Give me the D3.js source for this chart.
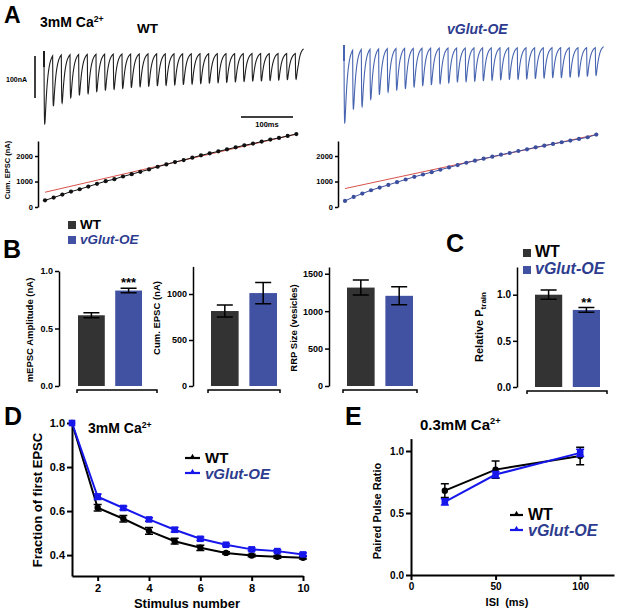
<!DOCTYPE html>
<html lang="en">
<head>
<meta charset="UTF-8">
<title>vGlut-OE short-term plasticity</title>
<script src="https://cdn.jsdelivr.net/npm/d3@7"></script>
<style>
    * { margin: 0; padding: 0; }
    body { background: #fff; }
    svg text { font-family: "Liberation Sans", Arial, sans-serif; font-weight: bold; }
</style>
</head>
<body>
<div id="container"></div>
<script>
"use strict";

// ---- A: 30-pulse train, peak EPSC per pulse (nA) ----
var pulseNumber = d3.range(1, 31);
var wtTrainAmp = [171, 121, 116, 104, 98, 95, 90, 87, 85, 83, 81, 79, 78, 77, 76, 75, 74, 73, 72, 71, 70, 69, 68, 67, 66, 66, 65, 64, 63, 62];
var vgTrainAmp = [183, 143, 138, 121, 110, 105, 100, 97, 93, 90, 88, 86, 84, 82, 81, 80, 79, 78, 77, 76, 76, 75, 74, 73, 72, 72, 71, 70, 69, 67];
var wtCumEpsc = [263, 368, 487, 605, 697, 803, 908, 1013, 1092, 1197, 1289, 1382, 1474, 1579, 1671, 1763, 1842, 1934, 2026, 2105, 2184, 2263, 2342, 2421, 2487, 2566, 2645, 2711, 2789, 2860];
var vgCumEpsc = [237, 395, 526, 658, 763, 868, 974, 1079, 1184, 1276, 1368, 1461, 1553, 1645, 1737, 1816, 1895, 1974, 2053, 2119, 2198, 2263, 2342, 2408, 2474, 2540, 2605, 2671, 2737, 2842];
var wtFit = [580, 2860];   // back-extrapolated linear fit at pulse 1 and pulse 30
var vgFit = [724, 2842];
var cumTrainTicks = [0, 1000, 2000];

// ---- B / C: bar graphs ----
var groups = ["WT", "vGlut-OE"];
var mepscAmp = [0.615, 0.83], mepscErr = [0.022, 0.02];
var cumEpsc = [815, 1010], cumEpscErr = [65, 115];
var rrpSize = [1315, 1205], rrpErr = [100, 120];
var pTrain = [1.0, 0.835], pTrainErr = [0.05, 0.025];
var mepscTicks = [0, 0.5, 1.0], cumTicks = [0, 500, 1000], rrpTicks = [0, 500, 1000, 1500], pTrainTicks = [0, 0.5, 1.0];

// ---- D: depression during train ----
var stimNumber = [1, 2, 3, 4, 5, 6, 7, 8, 9, 10];
var wtFraction = [1.0, 0.615, 0.565, 0.51, 0.463, 0.433, 0.41, 0.398, 0.392, 0.388];
var wtFractionErr = [0, 0.015, 0.015, 0.015, 0.013, 0.012, 0.005, 0.006, 0.006, 0.006];
var vgFraction = [1.0, 0.665, 0.614, 0.562, 0.515, 0.474, 0.447, 0.426, 0.418, 0.403];
var vgFractionErr = [0, 0.012, 0.008, 0.008, 0.01, 0.008, 0.006, 0.006, 0.006, 0.006];
var fractionTicks = [0.4, 0.6, 0.8, 1.0], stimTicks = [2, 4, 6, 8, 10];

// ---- E: paired pulse ratio ----
var isi = [20, 50, 100];
var wtPpr = [0.68, 0.85, 0.96], wtPprErr = [0.055, 0.07, 0.07];
var vgPpr = [0.59, 0.81, 0.985], vgPprErr = [0.025, 0.025, 0.03];
var pprTicks = [0, 0.5, 1.0], isiTicks = [0, 50, 100];

var barColors = ["#333333", "#4152a3"];
var traceColors = ["#1e1e1e", "#4664b0"];
var lineBlue = "#1717ec";
var navy = "#2d3c8e";
var fitRed = "#d8524c";

var svg = d3.select('#container').append('svg')
    .attr('width', 617).attr('height', 612);

function styleAxis(sel, size, w) {
    sel.attr('font-family', null).attr('font-size', size);
    sel.select('.domain').attr('stroke-width', w);
    sel.selectAll('.tick line').attr('stroke-width', w);
    sel.selectAll('.tick text').attr('fill', '#000');
}

function text(x, y, str, size, extra) {
    var t = svg.append('text').attr('x', x).attr('y', y).attr('font-size', size).text(str);
    if (extra) extra(t);
    return t;
}

function vLabel(x, y, str, size) {
    return svg.append('text')
        .attr('transform', 'translate(' + x + ',' + y + ') rotate(-90)')
        .attr('text-anchor', 'middle').attr('font-size', size).text(str);
}

function caTitle(x, y, conc, size) {
    var t = svg.append('text').attr('x', x).attr('y', y).attr('font-size', size)
        .attr('font-family', '"Open Sans", sans-serif');
    t.append('tspan').text(conc + ' Ca');
    t.append('tspan').attr('dy', -size * 0.38).attr('font-size', size * 0.62).text('2+');
}

function vglutText(x, y, size, color, anchor) {
    var t = svg.append('text').attr('x', x).attr('y', y).attr('font-size', size)
        .attr('fill', color).attr('font-style', 'italic');
    if (anchor) t.attr('text-anchor', anchor);
    t.text('vGlut-OE');
    return t;
}

// panel letters
text(4, 23, 'A', 23);
text(3, 258, 'B', 25);
text(446, 252, 'C', 25);
text(4, 425, 'D', 25);
text(345, 425, 'E', 25);

// =================== A ===================
caTitle(40, 27, '3mM', 14);
text(137, 33, 'WT', 13.5);
vglutText(447, 34, 14, navy);

var periodMs = 1000 / 60;
var tx = d3.scaleLinear().domain([0, 500]).range([0, 260]);

function kernelRaw(s) { return (1 - Math.exp(-s / 0.7)) * Math.exp(-s / 5); }
var kNorm = d3.max(d3.range(0, 10, 0.05), kernelRaw);

function trace(x0, base, amps, color, tail) {
    var yI = d3.scaleLinear().domain([0, 100]).range([base, base + 42]);
    var tEnd = (amps.length - 1) * periodMs;
    var pts = [];
    for (var t = 0; t <= tEnd + 16; t += 0.2) {
        var I = 0;
        amps.forEach(function (a, i) {
            var s = t - i * periodMs;
            if (s > 0) I += a * kernelRaw(s) / kNorm;
        });
        if (t > tEnd + 6) I -= tail * (1 - Math.exp(-(t - tEnd - 6) / 3));
        pts.push([t, I]);
    }
    svg.append('path')
        .attr('d', d3.line().x(function (d) { return x0 + tx(d[0]); }).y(function (d) { return yI(d[1]); })(pts))
        .attr('fill', 'none').attr('stroke', color).attr('stroke-width', 1.1);
    // stimulus artefact
    svg.append('line').attr('x1', x0).attr('x2', x0).attr('y1', base - 1).attr('y2', base + 15)
        .attr('stroke', color).attr('stroke-width', 2);
}
trace(44, 52, wtTrainAmp, traceColors[0], 12);
trace(344, 46, vgTrainAmp, traceColors[1], 3);

// scale bars
svg.append('line').attr('x1', 35).attr('x2', 35).attr('y1', 56).attr('y2', 98).attr('stroke', '#000').attr('stroke-width', 1.5);
text(6, 82, '100nA', 7);
svg.append('line').attr('x1', 241).attr('x2', 241 + tx(100)).attr('y1', 117).attr('y2', 117).attr('stroke', '#000').attr('stroke-width', 1.3);
text(241 + tx(50), 127, '100ms', 7.5, function (t) { t.attr('text-anchor', 'middle'); });

// cumulative EPSC plots
function cumPlot(axisX, x0, values, fit, color) {
    var y = d3.scaleLinear().domain([0, 2590]).range([207, 141]);
    var x = d3.scaleLinear().domain([1, 30]).range([x0 + 1, x0 + 1 + tx(29 * periodMs)]);
    svg.append('g').attr('transform', 'translate(' + axisX + ',0)')
        .call(d3.axisLeft(y).tickValues(cumTrainTicks).tickFormat(d3.format('d')).tickSize(3).tickSizeOuter(0).tickPadding(2))
        .call(styleAxis, 7.5, 1.5);
    svg.append('line')
        .attr('x1', x(1)).attr('y1', y(fit[0])).attr('x2', x(30)).attr('y2', y(fit[1]))
        .attr('stroke', fitRed).attr('stroke-width', 1);
    svg.append('path')
        .attr('d', d3.line().x(function (d, i) { return x(pulseNumber[i]); }).y(function (d) { return y(d); })(values))
        .attr('fill', 'none').attr('stroke', color).attr('stroke-width', 1);
    svg.append('g').selectAll('circle').data(values).join('circle')
        .attr('cx', function (d, i) { return x(pulseNumber[i]); })
        .attr('cy', function (d) { return y(d); })
        .attr('r', 2.1).attr('fill', color);
}
cumPlot(38, 44, wtCumEpsc, wtFit, '#111');
cumPlot(338, 344, vgCumEpsc, vgFit, '#3c4f9e');
vLabel(10, 170, 'Cum. EPSC (nA)', 7.5);

// =================== B / C ===================
function legendSquares(x, y1, y2, size, sq) {
    svg.append('rect').attr('x', x).attr('y', y1 - sq).attr('width', sq).attr('height', sq).attr('fill', barColors[0]);
    svg.append('rect').attr('x', x).attr('y', y2 - sq).attr('width', sq).attr('height', sq).attr('fill', barColors[1]);
    text(x + sq + 4, y1, 'WT', size);
    vglutText(x + sq + 4, y2, size, navy);
}
legendSquares(68, 229, 244, 13.5, 8);
legendSquares(523, 257, 274, 16, 8);

function barPanel(o) {
    var y = d3.scaleLinear().domain([0, o.max]).range([o.bottom, o.top]);
    var x = d3.scaleBand().domain(groups).range(o.bars).paddingInner(0.28);
    var g = svg.append('g');
    g.append('g').attr('transform', 'translate(' + o.axisX + ',0)')
        .call(d3.axisLeft(y).tickValues(o.ticks).tickFormat(o.fmt).tickSize(4).tickSizeOuter(0).tickPadding(2))
        .call(styleAxis, o.font, 1.5);
    g.selectAll('rect').data(o.values).join('rect')
        .attr('x', function (d, i) { return x(groups[i]); })
        .attr('y', function (d) { return y(d); })
        .attr('width', x.bandwidth())
        .attr('height', function (d) { return y(0) - y(d); })
        .attr('fill', function (d, i) { return barColors[i]; });
    o.values.forEach(function (v, i) {
        var cx = x(groups[i]) + x.bandwidth() / 2;
        var hi = y(v + o.errs[i]), lo = y(v - o.errs[i]);
        g.append('path')
            .attr('d', 'M' + (cx - 8) + ',' + hi + 'h16M' + cx + ',' + hi + 'V' + lo + 'M' + (cx - 8) + ',' + lo + 'h16')
            .attr('fill', 'none').attr('stroke', '#000').attr('stroke-width', 1.5);
        if (o.stars && o.stars[i]) {
            text(cx, hi - 1, o.stars[i], 13, function (t) { t.attr('text-anchor', 'middle'); });
        }
    });
    g.append('path')
        .attr('d', 'M' + o.line[0] + ',' + (o.bottom + 7) + 'V' + (o.bottom + 4) + 'H' + o.line[1] + 'V' + (o.bottom + 7))
        .attr('fill', 'none').attr('stroke', '#000').attr('stroke-width', 1.5);
}

barPanel({ axisX: 59, max: 1.0, top: 271, bottom: 386, bars: [78, 142], line: [77, 157],
    values: mepscAmp, errs: mepscErr, ticks: mepscTicks, fmt: d3.format('.1f'), font: 9, stars: ['', '***'] });
vLabel(33, 330, 'mEPSC Amplitude (nA)', 9.5);

barPanel({ axisX: 193, max: 1300, top: 266.4, bottom: 386, bars: [211, 277], line: [208, 280],
    values: cumEpsc, errs: cumEpscErr, ticks: cumTicks, fmt: d3.format('d'), font: 9 });
vLabel(160, 318, 'Cum. EPSC (nA)', 9.5);

barPanel({ axisX: 329, max: 1590, top: 267, bottom: 386, bars: [347, 413], line: [343, 417],
    values: rrpSize, errs: rrpErr, ticks: rrpTicks, fmt: d3.format('d'), font: 9 });
vLabel(297, 328, 'RRP Size (vesicles)', 9.5);

barPanel({ axisX: 517, max: 1.3, top: 267, bottom: 387, bars: [535, 600], line: [527, 607],
    values: pTrain, errs: pTrainErr, ticks: pTrainTicks, fmt: d3.format('.1f'), font: 10, stars: ['', '**'] });
var pl = vLabel(483, 327, '', 11);
pl.append('tspan').text('Relative  P');
pl.append('tspan').attr('dy', 3).attr('font-size', 8).text('train');

// =================== D / E ===================
function xyPanel(o) {
    var x = d3.scaleLinear().domain(o.xDomain).range(o.xRange);
    var y = d3.scaleLinear().domain(o.yDomain).range(o.yRange);
    svg.append('g').attr('transform', 'translate(' + o.xRange[0] + ',0)')
        .call(d3.axisLeft(y).tickValues(o.yTicks).tickFormat(d3.format('.1f')).tickSize(5).tickSizeOuter(0).tickPadding(2))
        .call(styleAxis, o.font, 2);
    svg.append('g').attr('transform', 'translate(0,' + o.yRange[0] + ')')
        .call(d3.axisBottom(x).tickValues(o.xTicks).tickSize(5).tickSizeOuter(0).tickPadding(3))
        .call(styleAxis, o.font, 2);
    o.series.forEach(function (s) {
        var g = svg.append('g');
        g.append('path')
            .attr('d', d3.line().x(function (d, i) { return x(o.xs[i]); }).y(function (d) { return y(d); })(s.values))
            .attr('fill', 'none').attr('stroke', s.color).attr('stroke-width', 2);
        s.values.forEach(function (v, i) {
            var cx = x(o.xs[i]), e = s.errs[i];
            if (e > 0) {
                g.append('path')
                    .attr('d', 'M' + (cx - 4) + ',' + y(v + e) + 'h8M' + cx + ',' + y(v + e) + 'V' + y(v - e) + 'M' + (cx - 4) + ',' + y(v - e) + 'h8')
                    .attr('fill', 'none').attr('stroke', s.color).attr('stroke-width', 1.5);
            }
            if (s.shape === 'circle') {
                g.append('circle').attr('cx', cx).attr('cy', y(v)).attr('r', 3.2).attr('fill', s.color);
            } else {
                g.append('rect').attr('x', cx - 3.3).attr('y', y(v) - 3.3).attr('width', 6.6).attr('height', 6.6).attr('fill', s.color);
            }
        });
    });
}

function lineLegend(x, y1, y2, size, len) {
    [[y1, '#000'], [y2, lineBlue]].forEach(function (r) {
        svg.append('line').attr('x1', x).attr('x2', x + len).attr('y1', r[0]).attr('y2', r[0])
            .attr('stroke', r[1]).attr('stroke-width', 2.2);
        svg.append('path').attr('d', d3.symbol(d3.symbolTriangle, 14)()).attr('transform', 'translate(' + (x + len / 2) + ',' + (r[0] - 1) + ')')
            .attr('fill', r[1]);
    });
    text(x + len + 5, y1 + 5, 'WT', size);
    vglutText(x + len + 5, y2 + 6, size, navy);
}

caTitle(88, 433, '3mM', 14);
xyPanel({ xDomain: [1, 10], xRange: [72, 303], yDomain: [0.305, 1.0], yRange: [576, 423],
    xs: stimNumber, xTicks: stimTicks, yTicks: fractionTicks, font: 11,
    series: [
        { values: wtFraction, errs: wtFractionErr, color: '#000', shape: 'circle' },
        { values: vgFraction, errs: vgFractionErr, color: lineBlue, shape: 'square' }
    ] });
vLabel(42, 500, 'Fraction of first EPSC', 13);
text(187, 608, 'Stimulus number', 13, function (t) { t.attr('text-anchor', 'middle'); });
lineLegend(185, 458, 473, 15, 15);

caTitle(420, 430, '0.3mM', 15);
xyPanel({ xDomain: [0, 120], xRange: [411, 614], yDomain: [0, 1.1], yRange: [575, 438.6],
    xs: isi, xTicks: isiTicks, yTicks: pprTicks, font: 10,
    series: [
        { values: wtPpr, errs: wtPprErr, color: '#000', shape: 'circle' },
        { values: vgPpr, errs: vgPprErr, color: lineBlue, shape: 'square' }
    ] });
vLabel(381, 511, 'Paired Pulse Ratio', 11);
text(507, 606, 'ISI  (ms)', 11, function (t) { t.attr('text-anchor', 'middle').style('white-space', 'pre'); });
lineLegend(510, 515, 530, 16, 13);
</script>
</body>
</html>
